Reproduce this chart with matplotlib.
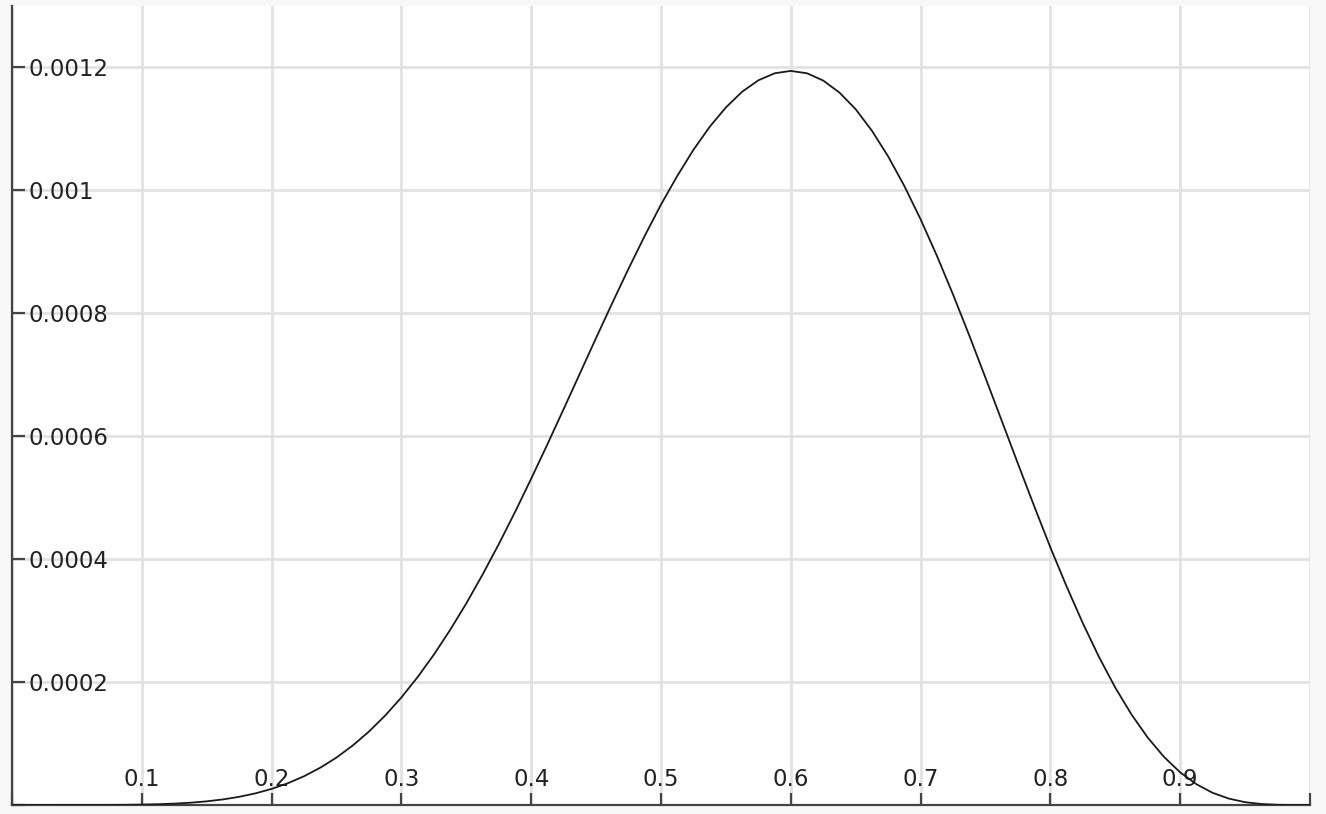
import matplotlib
matplotlib.use("Agg")
import matplotlib.pyplot as plt

# Values (x step 0.0125)
x_vals = [0.0, 0.0125, 0.025, 0.0375, 0.05, 0.0625, 0.075, 0.0875,
          0.1, 0.1125, 0.125, 0.1375, 0.15, 0.1625, 0.175, 0.1875,
          0.2, 0.2125, 0.225, 0.2375, 0.25, 0.2625, 0.275, 0.2875,
          0.3, 0.3125, 0.325, 0.3375, 0.35, 0.3625, 0.375, 0.3875,
          0.4, 0.4125, 0.425, 0.4375, 0.45, 0.4625, 0.475, 0.4875,
          0.5, 0.5125, 0.525, 0.5375, 0.55, 0.5625, 0.575, 0.5875,
          0.6, 0.6125, 0.625, 0.6375, 0.65, 0.6625, 0.675, 0.6875,
          0.7, 0.7125, 0.725, 0.7375, 0.75, 0.7625, 0.775, 0.7875,
          0.8, 0.8125, 0.825, 0.8375, 0.85, 0.8625, 0.875, 0.8875,
          0.9, 0.9125, 0.925, 0.9375, 0.95, 0.9625, 0.975, 0.9875, 1.0]
y_vals = [0.0, 0.0, 0.0, 0.0, 0.00000001, 0.00000005, 0.00000013, 0.00000031,
          0.00000066, 0.00000126, 0.00000224, 0.00000374, 0.00000595, 0.00000906,
          0.0000133, 0.0000189,
          0.0000262, 0.0000354, 0.0000468, 0.0000607, 0.0000772, 0.0000968,
          0.0001195, 0.0001455,
          0.000175, 0.0002081, 0.0002446, 0.0002847, 0.000328, 0.0003748,
          0.0004243, 0.0004765,
          0.000531, 0.0005869, 0.0006442, 0.000702, 0.00076, 0.0008169,
          0.0008726, 0.0009261,
          0.000977, 0.0010234, 0.001066, 0.0011034, 0.001135, 0.0011605,
          0.0011791, 0.0011905,
          0.0011944, 0.0011905, 0.0011787, 0.0011591, 0.001132, 0.001097,
          0.0010553, 0.001007,
          0.000953, 0.0008939, 0.0008305, 0.000764, 0.000695, 0.0006253,
          0.0005553, 0.0004863,
          0.000419, 0.0003555, 0.0002957, 0.0002406, 0.0001909, 0.0001472,
          0.0001096, 0.0000783,
          0.0000531, 0.0000338, 0.0000198, 0.0000104, 0.0000046, 0.0000016,
          0.00000034, 0.00000002, 0.0]

x_ticks = [0.0, 0.1, 0.2, 0.3, 0.4, 0.5, 0.6, 0.7, 0.8, 0.9, 1.0]
x_tick_labels = ["", "0.1", "0.2", "0.3", "0.4", "0.5", "0.6", "0.7", "0.8", "0.9", ""]
y_ticks = [0.0, 0.0002, 0.0004, 0.0006, 0.0008, 0.001, 0.0012]
y_tick_labels = ["", "0.0002", "0.0004", "0.0006", "0.0008", "0.001", "0.0012"]

W, H = 1326, 814
fig = plt.figure(figsize=(W / 100, H / 100), dpi=100, facecolor="#f8f8f8")
ax = fig.add_axes([12 / W, 9 / H, (1310 - 12) / W, (805 - 6) / H])
ax.set_facecolor("white")

ax.plot(x_vals, y_vals, color="#1a1a1a", linewidth=1.3, zorder=3,
        solid_joinstyle="round")

ax.set_xlim(0, 1.0)
ax.set_ylim(0, 0.0013)

ax.set_xticks(x_ticks)
ax.set_xticklabels(x_tick_labels)
ax.set_yticks(y_ticks)
ax.set_yticklabels(y_tick_labels)

ax.grid(True, color="#e2e2e2", linewidth=2, zorder=0)
ax.set_axisbelow(True)

for side in ["top", "right"]:
    ax.spines[side].set_visible(False)
for side in ["left", "bottom"]:
    ax.spines[side].set_color("#444444")
    ax.spines[side].set_linewidth(1.6)

ax.tick_params(axis="both", direction="in", length=9, width=1.6, color="#444444",
               labelsize=16.5, labelcolor="#222222")
ax.tick_params(axis="y", pad=-12)
ax.tick_params(axis="x", pad=-13.5)
for lab in ax.get_yticklabels():
    lab.set_horizontalalignment("left")
for lab in ax.get_xticklabels():
    lab.set_verticalalignment("baseline")

fig.savefig("out.png", dpi=100, facecolor=fig.get_facecolor())
